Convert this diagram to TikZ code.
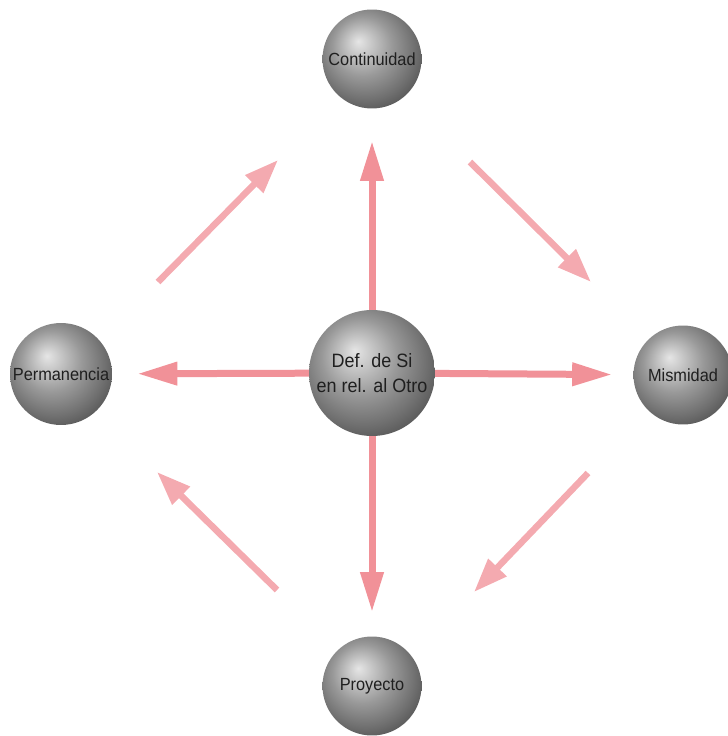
\documentclass[tikz,border=0pt]{standalone}
\usepackage{fontspec}
\setmainfont{Liberation Sans}
\newfontfamily\narrowfont[FakeStretch=0.93]{Liberation Sans}
\usepackage{tikz}
\usetikzlibrary{arrows.meta, backgrounds}

\definecolor{flechaRoja}{RGB}{241,145,152}
\definecolor{flechaClara}{RGB}{244,170,176}

\pgfdeclareradialshading{esfera}{\pgfpoint{-7bp}{9bp}}{%
  color(0bp)=(black!10); color(6bp)=(black!22); color(15bp)=(black!40);
  color(25bp)=(black!56); color(32bp)=(black!68); color(50bp)=(black!72)}

\begin{document}
\begin{tikzpicture}[
  x=0.02cm, y=-0.02cm,
  ballbox/.style={
    circle,
    path picture={
      \shade[shading=esfera] (path picture bounding box.south west)
        rectangle (path picture bounding box.north east);
    },
    minimum size=1.98cm,
    inner sep=0pt,
    text=black!88,
    font=\narrowfont\fontsize{10}{12}\selectfont
  },
  corebox/.style={
    ballbox,
    align=center,
    minimum size=2.52cm,
    font=\narrowfont\fontsize{11}{14}\selectfont
  },
  arrow/.style={
    draw=flechaRoja,
    line width=0.14cm,
    -{Triangle[length=0.8cm, width=0.44cm]}
  },
  sidearrow/.style={
    draw=flechaClara,
    line width=0.13cm,
    -{Triangle[length=0.68cm, width=0.48cm]}
  }
]
\useasboundingbox (0,0) rectangle (727,736);

% Central sphere
\node[corebox] (def) at (372,373) {Def. de Si\\en rel. al Otro};

% Outer spheres
\node[ballbox] (cont) at (372,59) {Continuidad};
\node[ballbox, minimum size=2.04cm] (perm) at (61,374) {Permanencia};
\node[ballbox] (mism) at (683,375) {Mismidad};
\node[ballbox] (proy) at (372,686) {Proyecto};

% Ends of the free arrows
\coordinate (nwA) at (158,282);
\coordinate (nwB) at (278,160);
\coordinate (neA) at (470,162);
\coordinate (neB) at (591,282);
\coordinate (seA) at (588,473);
\coordinate (seB) at (474,592);
\coordinate (swA) at (277,590);
\coordinate (swB) at (157,472);

\begin{scope}[on background layer]
% Arrows from the centre
\draw[arrow, shorten >=0.64cm] (def.center) -- (cont);
\draw[arrow, shorten >=0.5cm] (def.center) -- (perm);
\draw[arrow, shorten >=0.42cm] (def.center) -- (mism);
\draw[arrow, shorten >=0.48cm] (def.center) -- (proy);

% Arrows round the ring
\draw[sidearrow] (nwA) -- (nwB);
\draw[sidearrow] (neA) -- (neB);
\draw[sidearrow] (seA) -- (seB);
\draw[sidearrow] (swA) -- (swB);
\end{scope}

\end{tikzpicture}
\end{document}
